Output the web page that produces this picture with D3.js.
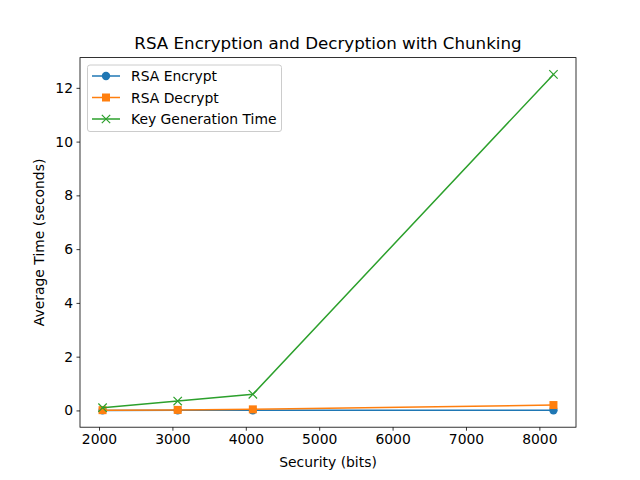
<!DOCTYPE html>
<html><head><meta charset="utf-8">
<script src="https://cdn.jsdelivr.net/npm/d3@7"></script>
<style>body{margin:0;background:#fff;} svg{display:block;font-family:"DejaVu Sans",sans-serif;}</style>
</head><body><svg id="c" width="640" height="480"></svg>
<script>
const bits = [2048, 3072, 4096, 8192];
const encrypt = [0.001, 0.002, 0.003, 0.006];
const decrypt = [0.01, 0.02, 0.04, 0.2];
const keygen = [0.1, 0.35, 0.6, 12.5];
const xTicks = [2000, 3000, 4000, 5000, 6000, 7000, 8000];
const yTicks = [0, 2, 4, 6, 8, 10, 12];
const seriesNames = ["RSA Encrypt", "RSA Decrypt", "Key Generation Time"];
const colors = ["#1f77b4", "#ff7f0e", "#2ca02c"];
const markers = ["circle", "square", "x"];

const svg = d3.select("#c");
const L = 80, R = 576, T = 57.6, B = 427.2;
const xmin = d3.min(bits), xmax = d3.max(bits), xp = (xmax - xmin) * 0.05;
const all = encrypt.concat(decrypt, keygen);
const ymin = d3.min(all), ymax = d3.max(all), yp = (ymax - ymin) * 0.05;
const x = d3.scaleLinear().domain([xmin - xp, xmax + xp]).range([L, R]);
const y = d3.scaleLinear().domain([ymin - yp, ymax + yp]).range([B, T]);

const series = [encrypt, decrypt, keygen];
const line = d3.line().x((d, i) => x(bits[i])).y(d => y(d));

function drawMarker(g, type, cx, cy, color) {
  if (type === "circle") g.append("circle").attr("cx", cx).attr("cy", cy).attr("r", 4.2).attr("fill", color);
  else if (type === "square") g.append("rect").attr("x", cx - 4).attr("y", cy - 4).attr("width", 8).attr("height", 8).attr("fill", color);
  else g.append("path").attr("d", `M${cx-4.2},${cy-4.2}L${cx+4.2},${cy+4.2}M${cx-4.2},${cy+4.2}L${cx+4.2},${cy-4.2}`).attr("stroke", color).attr("stroke-width", 1.2).attr("fill", "none");
}

const plot = svg.append("g");
series.forEach((s, k) => {
  plot.append("path").attr("d", line(s)).attr("fill", "none").attr("stroke", colors[k]).attr("stroke-width", 1.5);
  s.forEach((v, i) => drawMarker(plot, markers[k], x(bits[i]), y(v), colors[k]));
});

// axes
const xa = svg.append("g").attr("transform", `translate(0,${B})`).call(d3.axisBottom(x).tickValues(xTicks).tickSize(3.5).tickPadding(3.5).tickFormat(d3.format("d")));
const ya = svg.append("g").attr("transform", `translate(${L},0)`).call(d3.axisLeft(y).tickValues(yTicks).tickSize(3.5).tickPadding(3.5).tickFormat(d3.format("d")));
[xa, ya].forEach(a => {
  a.selectAll("text").attr("font-size", 13.9).attr("fill", "#000").attr("font-family", "DejaVu Sans");
  a.select(".domain").remove();
  a.selectAll("line").attr("stroke", "#000").attr("stroke-width", 0.8);
});
svg.append("rect").attr("x", L).attr("y", T).attr("width", R - L).attr("height", B - T).attr("fill", "none").attr("stroke", "#000").attr("stroke-width", 0.8);

svg.append("text").attr("x", (L + R) / 2).attr("y", 49).attr("text-anchor", "middle").attr("font-size", 16.7).text("RSA Encryption and Decryption with Chunking");
svg.append("text").attr("x", (L + R) / 2).attr("y", 467).attr("text-anchor", "middle").attr("font-size", 13.9).text("Security (bits)");
svg.append("text").attr("transform", `translate(44,${(T + B) / 2}) rotate(-90)`).attr("text-anchor", "middle").attr("font-size", 13.9).text("Average Time (seconds)");

// legend
const lg = svg.append("g");
lg.append("rect").attr("x", 87.5).attr("y", 65).attr("width", 194).attr("height", 66.5).attr("rx", 2.5).attr("fill", "#fff").attr("fill-opacity", 0.8).attr("stroke", "#ccc").attr("stroke-width", 1);
seriesNames.forEach((n, k) => {
  const cy = 76 + k * 21.5;
  lg.append("line").attr("x1", 92).attr("x2", 120).attr("y1", cy).attr("y2", cy).attr("stroke", colors[k]).attr("stroke-width", 1.5);
  drawMarker(lg, markers[k], 106, cy, colors[k]);
  lg.append("text").attr("x", 131).attr("y", cy + 5).attr("font-size", 13.9).text(n);
});
</script></body></html>
